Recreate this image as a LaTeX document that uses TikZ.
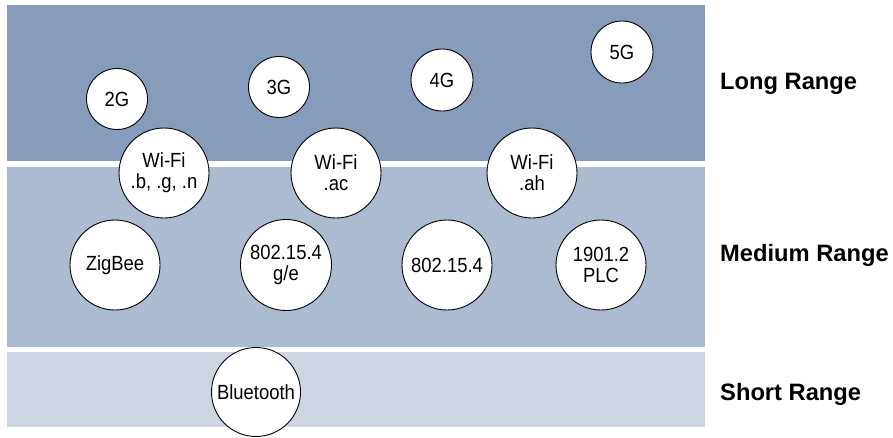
\documentclass[tikz,border=0pt]{standalone}
\usepackage{fontspec}
\setmainfont{Liberation Sans}
\newfontfamily\circfont{Liberation Sans}[FakeStretch=0.9]
\definecolor{longc}{HTML}{879CBB}
\definecolor{medc}{HTML}{ADBBD0}
\definecolor{shortc}{HTML}{CDD5E3}
\begin{document}
\begin{tikzpicture}[x=1pt,y=-1pt,
  band/.style={fill=#1,draw=none},
  tech/.style={circle,draw=black,line width=0.9pt,fill=white,minimum size=#1,inner sep=0pt,
    align=center,font=\circfont\fontsize{20.5}{21}\selectfont},
  tech/.default=90,
  rangelabel/.style={anchor=base west,inner sep=0pt,font=\bfseries\fontsize{23.7}{27}\selectfont}]
\useasboundingbox (0,0) rectangle (893,437);
\fill[white] (0,0) rectangle (893,437);
\path[band=longc] (7,5) rectangle (705,161);
\path[band=medc] (7,167) rectangle (705,347);
\path[band=shortc] (7,352) rectangle (705,427);
\node[tech=61] (g2) at (117,99) {2G};
\node[tech=61] (g3) at (279,87) {3G};
\node[tech=62] (g4) at (442,80) {4G};
\node[tech=62] (g5) at (622,52) {5G};
\node[tech] (wifibgn) at (164,173) {Wi-Fi\\.b, .g, .n};
\node[tech] (wifiac) at (336,173) {Wi-Fi\\.ac};
\node[tech] (wifiah) at (532,173) {Wi-Fi\\.ah};
\node[tech] (zigbee) at (115,265) {ZigBee};
\node[tech=91] (ge) at (286,265) {802.15.4\\g/e};
\node[tech] (plain) at (447,265) {802.15.4};
\node[tech] (plc) at (601,265) {1901.2\\PLC};
\node[tech=89] (bt) at (256,392) {Bluetooth};
\node[rangelabel] (lr) at (720,89.5) {Long Range};
\node[rangelabel] (mr) at (720,261) {Medium Range};
\node[rangelabel] (sr) at (720,400) {Short Range};
\end{tikzpicture}
\end{document}
